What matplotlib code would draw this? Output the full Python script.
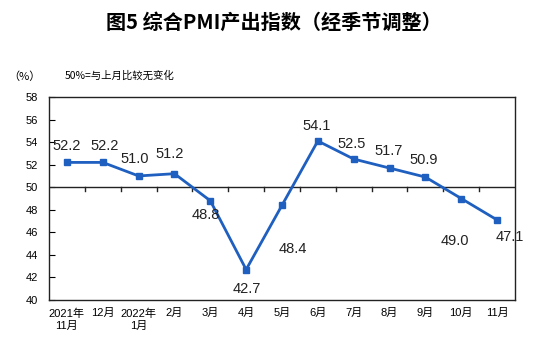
import matplotlib
matplotlib.use("Agg")
import matplotlib.pyplot as plt

plt.rcParams['font.family'] = ['Liberation Sans', 'Noto Sans CJK SC', 'DejaVu Sans']

categories = ["2021年\n11月", "12月", "2022年\n1月", "2月", "3月", "4月", "5月",
              "6月", "7月", "8月", "9月", "10月", "11月"]
values = [52.2, 52.2, 51.0, 51.2, 48.8, 42.7, 48.4, 54.1, 52.5, 51.7, 50.9, 49.0, 47.1]
yticks = [40, 42, 44, 46, 48, 50, 52, 54, 56, 58]
# label offsets in pixels (dx, dy)
offsets = [(0, 16), (2, 16), (-4, 17), (-5, 20), (-4, -14), (1, -19), (11, -44),
           (-1, 15), (-2, 15), (-1, 17), (-2, 17), (-6, -42), (13, -17)]

fig = plt.figure(figsize=(5.47, 3.63), dpi=100)
ax = fig.add_axes([49/547, 63/363, 466/547, 203/363])
x = list(range(len(values)))
color = '#1f5fc0'
ax.plot(x, values, color=color, lw=2, marker='s', ms=5, zorder=3)
ax.set_xlim(-0.5, len(values) - 0.5)
ax.set_ylim(40, 58)
ax.set_yticks(yticks)
ax.tick_params(axis='y', direction='in', length=4, labelsize=8, pad=8)
ax.set_xticks(x)
ax.set_xticklabels(categories, fontsize=8, linespacing=1.3, va='top')
ax.tick_params(axis='x', length=0, pad=6)
for s in ax.spines.values():
    s.set_linewidth(1)
    s.set_color('#222222')
ax.axhline(50, color='#222222', lw=1, zorder=2)
for b in range(1, len(values)):
    ax.plot([b - 0.5, b - 0.5], [50, 49.65], color='#222222', lw=1, zorder=2)

for xi, v, (dx, dy) in zip(x, values, offsets):
    ax.annotate(f"{v:.1f}", (xi, v), xytext=(dx, dy), textcoords='offset pixels',
                ha='center', va='center', fontsize=10.5, color='#222222')

fig.text(0.5, 1 - 22/363, "图5 综合PMI产出指数（经季节调整）", ha='center', va='center',
         fontsize=14.5, fontweight='bold', family=['Noto Sans CJK SC', 'DejaVu Sans'])
fig.text(8/547, 1 - 77/363, "（%）", ha='left', va='center', fontsize=8,
         family=['Noto Sans CJK SC'])
fig.text(65/547, 1 - 76/363, "50%=与上月比较无变化", ha='left', va='center', fontsize=7.5,
         family=['Noto Sans CJK SC', 'DejaVu Sans'])

fig.savefig("out.png", dpi=100)
